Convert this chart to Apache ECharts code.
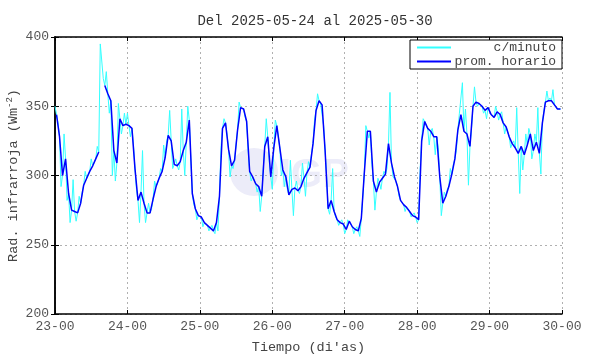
<!DOCTYPE html>
<html>
<head>
<meta charset="utf-8">
<script src="https://cdn.jsdelivr.net/npm/echarts@6/dist/echarts.min.js"></script>
<style>
  html, body { margin: 0; padding: 0; background: #fff; }
  #main { width: 590px; height: 354px; }
</style>
</head>
<body>
<div id="main"></div>
<script>
// dias del eje x (cada 24 h)
const dayLabels = ["23-00", "24-00", "25-00", "26-00", "27-00", "28-00", "29-00", "30-00"];

// promedio horario (W/m2), una hora por valor desde 23-00
const hourly = [
  344, 328, 300, 312, 287, 275, 274, 273, 280, 293, 298, 303, 307, 312, 317, null, 365, 359, 354, 318, 309, 341, 336, 337,
  336, 334, 305, 282, 288, 280, 273, 273, 283, 292, 298, 303, 313, 329, 325, 308, 307, 310, 318, 324, 340, 287, 276, 271,
  270, 266, 264, 262, 260, 266, 285, 334, 338, 319, 307, 311, 333, 349, 348, 339, 303, 299, 294, 292, 285, 321, 328, 299,
  320, 336, 320, 304, 299, 286, 290, 291, 289, 292, 298, 302, 306, 323, 347, 354, 351, 318, 276, 282, 274, 268, 266, 265,
  261, 267, 263, 261, 260, 269, 302, 332, 332, 296, 288, 295, 298, 301, 323, 309, 299, 292, 282, 279, 277, 274, 271, 270,
  268, 325, 339, 334, 332, 328, 328, 299, 280, 285, 292, 301, 312, 333, 344, 332, 330, 321, 350, 353, 352, 350, 347, 349,
  344, 342, 346, 344, 338, 335, 328, 323, 320, 316, 321, 315, 322, 330, 318, 324, 316, 338, 353, 354, 354, 351, 348, 348
];

const minuteExtremes = [
  350, 338, 292, 330, 282, 266, 297, 267, 285, 288, 303, 299, 312, 306, 321, 395, 370, 375, 345, 300, 296, 352, 330, 345,
  345, 328, 322, 290, 266, 318, 266, 280, 276, 296, 292, 305, 322, 325, 347, 305, 312, 304, 348, 300, 350, 312, 279, 268,
  272, 263, 266, 260, 264, 258, 260, 320, 341, 330, 299, 305, 322, 353, 350, 342, 318, 296, 300, 288, 274, 305, 341, 310,
  290, 340, 328, 300, 292, 290, 311, 271, 296, 287, 309, 285, 310, 316, 340, 359, 352, 336, 300, 272, 305, 270, 264, 268,
  258, 268, 265, 258, 263, 256, 285, 336, 327, 308, 275, 298, 290, 303, 305, 360, 299, 296, 285, 282, 274, 276, 270, 273,
  266, 305, 341, 336, 322, 334, 315, 320, 271, 288, 290, 305, 308, 318, 345, 367, 348, 293, 333, 364, 350, 353, 345, 341,
  348, 343, 350, 340, 346, 330, 334, 320, 325, 349, 287, 304, 330, 334, 312, 330, 349, 301, 347, 361, 356, 362, 350, 349
];

const font = "Liberation Mono";

const blueData = hourly.map((v, i) => [i + 0.5, v]);
const cyanData = [];
minuteExtremes.forEach((v, i) => {
  cyanData.push([i, v]);
  if (hourly[i] !== null) cyanData.push([i + 0.5, hourly[i]]);
});

var chartDom = document.getElementById("main");
var myChart = echarts.init(chartDom, null, { renderer: "canvas" });

const xBase = {
  type: "value",
  min: 0,
  max: 168,
  interval: 24,
  splitLine: { show: false },
  axisLine: { show: true, lineStyle: { color: "#000", width: 1.5 } },
  axisTick: { show: true, inside: true, length: 4, lineStyle: { color: "#000" } },
};
const yBase = {
  type: "value",
  min: 200,
  max: 400,
  interval: 50,
  splitLine: { show: false },
  axisLine: { show: true, lineStyle: { color: "#000", width: 1.5 } },
  axisTick: { show: true, inside: true, length: 4, lineStyle: { color: "#000" } },
};

var option = {
  animation: false,
  backgroundColor: "#fff",
  title: {
    text: "Del 2025-05-24 al 2025-05-30",
    left: 310,
    textAlign: "center",
    top: 9,
    textStyle: { fontFamily: font, fontSize: 14, fontWeight: "normal", color: "#333" },
  },
  graphic: [
    {
      type: "circle",
      shape: { cx: 254, cy: 172, r: 24 },
      style: { fill: "#ececf9" },
      z: -10,
    },
    {
      type: "text",
      left: 280,
      top: 156,
      style: { text: "IGP", font: "bold 40px Arial", fill: "#ececf9" },
      z: -10,
    },
  ],
  legend: {
    orient: "vertical",
    right: 28,
    top: 40,
    backgroundColor: "#fff",
    borderColor: "#000",
    borderWidth: 1,
    borderRadius: 0,
    padding: [1, 6, 1, 7],
    itemGap: 1,
    itemWidth: 34,
    itemHeight: 2,
    icon: "rect",
    formatter: (name) => `{t|${name}}`,
    textStyle: {
      fontFamily: font,
      fontSize: 13,
      color: "#444",
      rich: { t: { width: 100, align: "right", fontFamily: font, fontSize: 13, color: "#444", lineHeight: 13 } },
    },
    data: ["c/minuto", "prom. horario"],
  },
  grid: { left: 55, right: 28, top: 37, bottom: 40, outerBoundsMode: "none", containLabel: false },
  xAxis: [
    Object.assign({}, xBase, {
      position: "bottom",
      splitLine: { show: true, lineStyle: { color: "#b0b0b0", type: [2, 3], width: 1 } },
      axisLabel: {
        fontFamily: font,
        fontSize: 13,
        color: "#555",
        margin: 6,
        formatter: (v) => dayLabels[v / 24],
      },
      name: "Tiempo (di'as)",
      nameLocation: "middle",
      nameGap: 26,
      nameMoveOverlap: false,
      nameTextStyle: { fontFamily: font, fontSize: 13.5, color: "#444" },
    }),
    Object.assign({}, xBase, { position: "top", axisLabel: { show: false } }),
  ],
  yAxis: [
    Object.assign({}, yBase, {
      position: "left",
      splitLine: { show: true, lineStyle: { color: "#b0b0b0", type: [2, 3], width: 1 } },
      axisLabel: { fontFamily: font, fontSize: 13, color: "#555", margin: 6 },
      name: "Rad. infrarroja (Wm{sup|-2})",
      nameLocation: "middle",
      nameGap: 33,
      nameMoveOverlap: false,
      nameTextStyle: {
        fontFamily: font,
        fontSize: 13.5,
        color: "#444",
        rich: { sup: { fontFamily: font, fontSize: 9, color: "#444", padding: [0, 0, 8, 0] } },
      },
    }),
    Object.assign({}, yBase, { position: "right", axisLabel: { show: false } }),
  ],
  series: [
    {
      name: "c/minuto",
      type: "line",
      data: cyanData,
      symbol: "none",
      connectNulls: true,
      color: "#33ffff",
      lineStyle: { color: "#33ffff", width: 1 },
      z: 2,
    },
    {
      name: "prom. horario",
      type: "line",
      data: blueData,
      symbol: "none",
      connectNulls: false,
      color: "#0000ff",
      lineStyle: { color: "#0000ff", width: 1.5 },
      z: 3,
    },
  ],
};

myChart.setOption(option);
</script>
</body>
</html>
